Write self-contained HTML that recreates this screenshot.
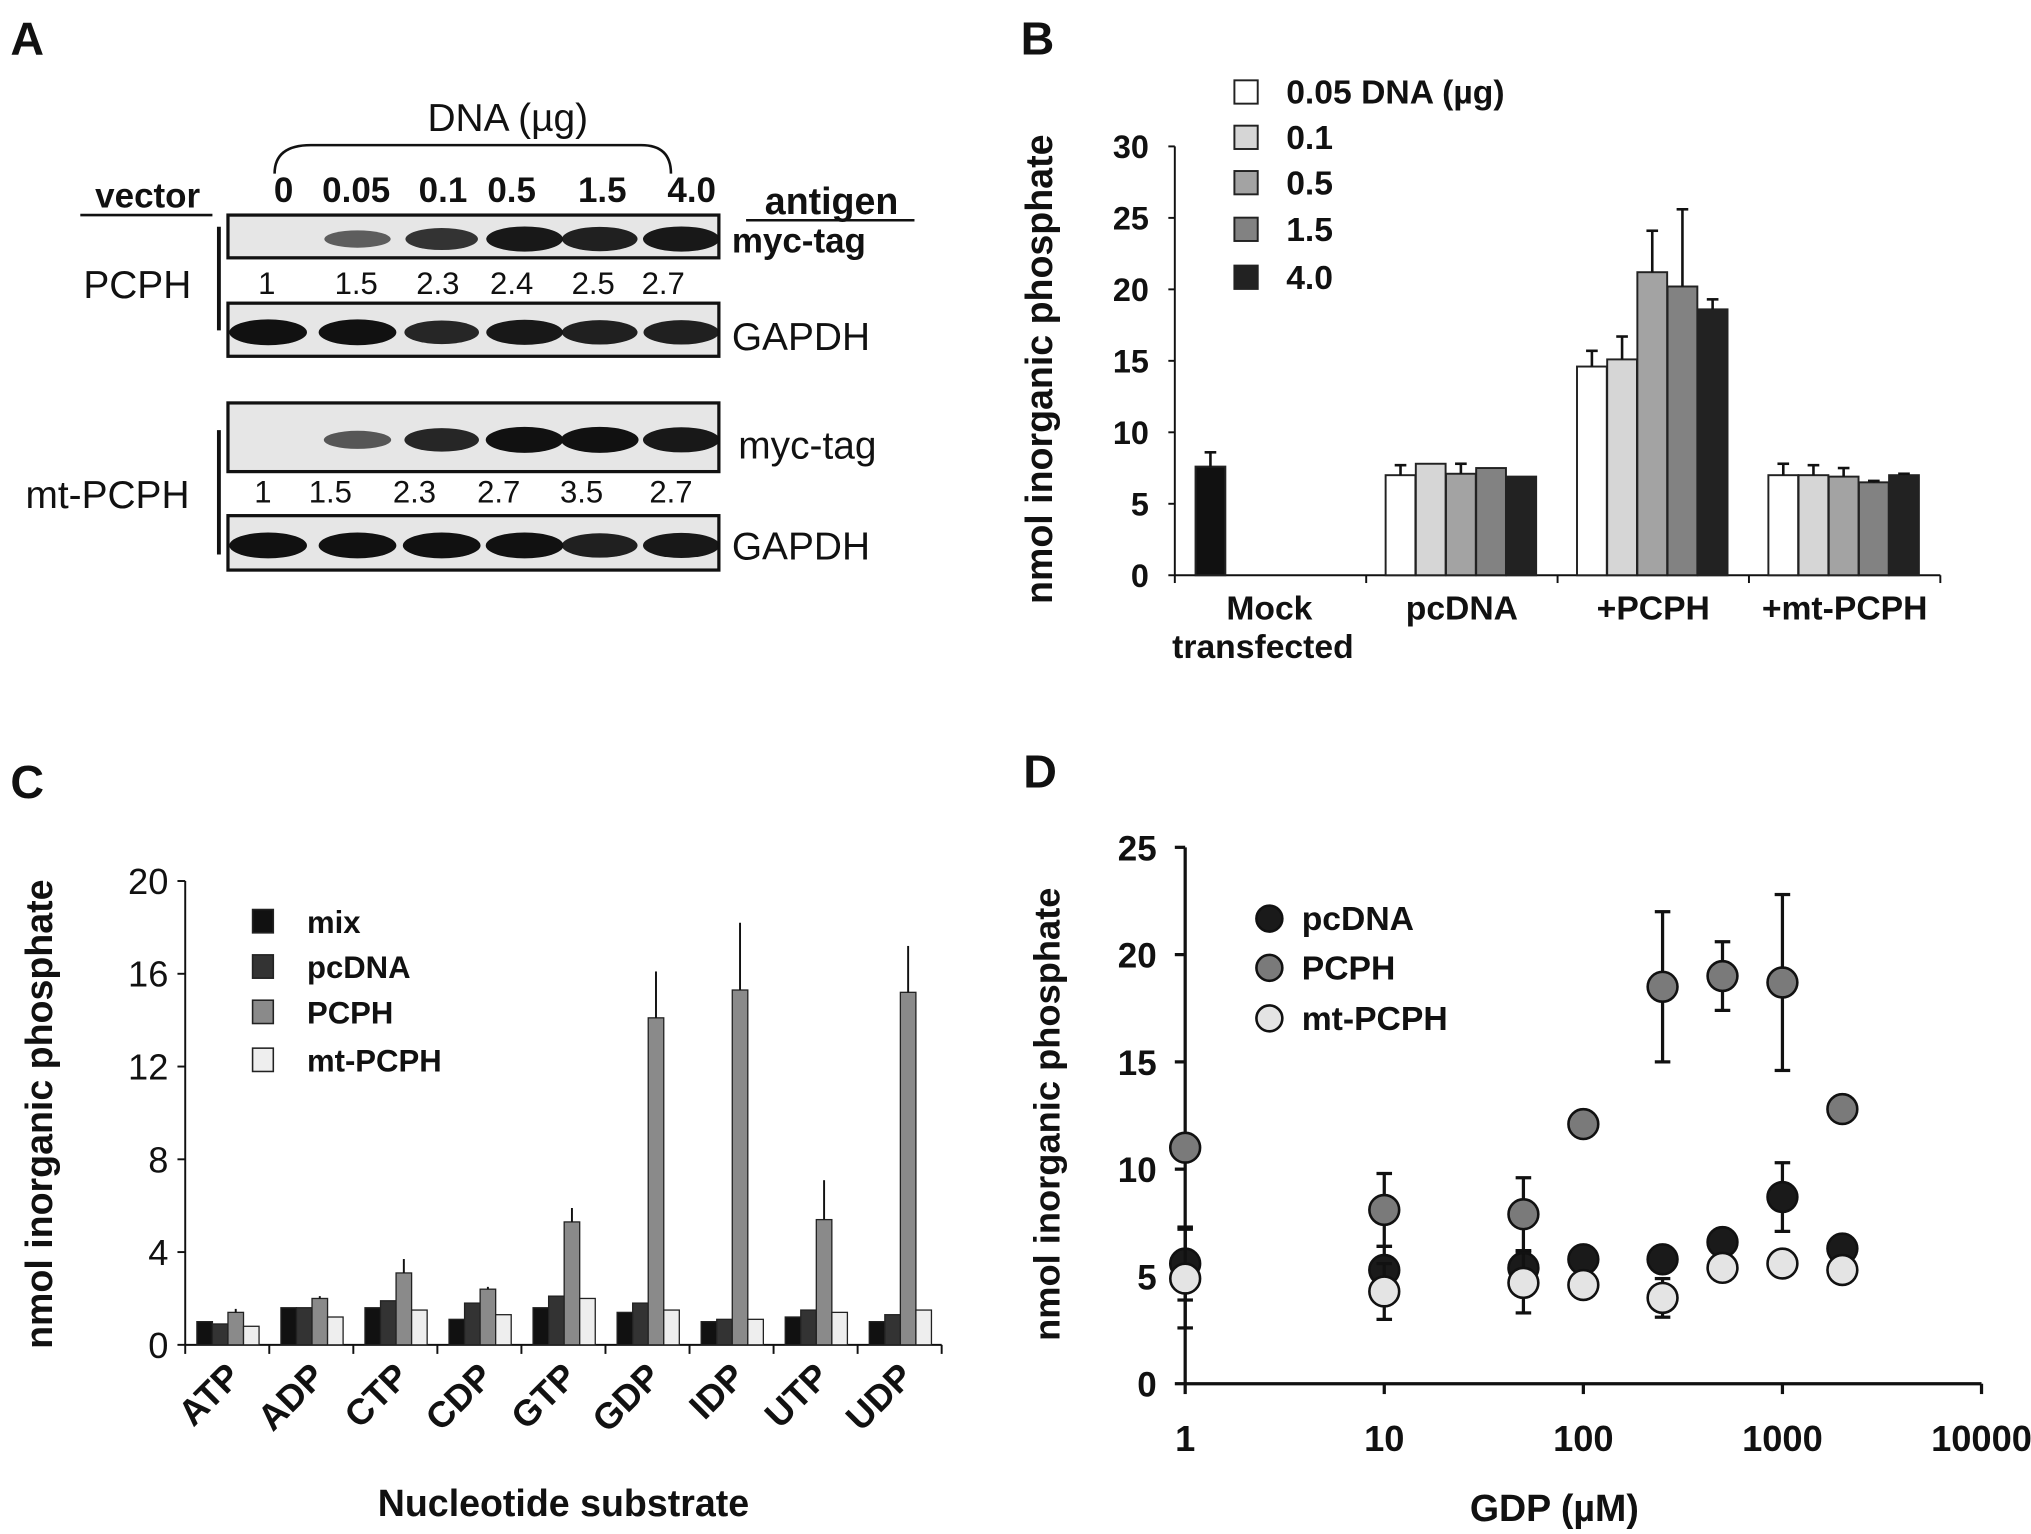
<!DOCTYPE html>
<html><head><meta charset="utf-8"><style>
html,body{margin:0;padding:0;background:#fff;}
svg{display:block;font-family:"Liberation Sans",Arial,sans-serif;}
</style></head><body>
<svg id="fig" width="2031" height="1534" viewBox="0 0 1568 1184" preserveAspectRatio="none">
<rect width="1568" height="1184" fill="#fff"/>
<g id="pA"></g>
<g id="pB"></g>
<g id="pC"></g>
<g id="pD"></g>
</svg>
<script>
// ---------- Panel A data ----------
const laneLabels = ["0","0.05","0.1","0.5","1.5","4.0"];
const pcphRatios = ["1","1.5","2.3","2.4","2.5","2.7"];
const mtRatios = ["1","1.5","2.3","2.7","3.5","2.7"];
const pcphMycIntensity = [0,0.45,0.75,0.95,0.9,0.95];
const mtMycIntensity = [0,0.5,0.85,1,1,0.95];
// ---------- Panel B data ----------
const bGroups = ["Mock","pcDNA","+PCPH","+mt-PCPH"];
const bSeries = ["0.05 DNA (µg)","0.1","0.5","1.5","4.0"];
const bMock = [7.6]; const bMockErr = [1.0];
const bVals = [[7.0,7.8,7.1,7.5,6.9],[14.6,15.1,21.2,20.2,18.6],[7.0,7.0,6.9,6.5,7.0]];
const bErrs = [[0.7,0,0.7,0,0],[1.1,1.6,2.9,5.4,0.7],[0.8,0.7,0.6,0.1,0.1]];
const bTicks = [0,5,10,15,20,25,30];
// ---------- Panel C data ----------
const cCats = ["ATP","ADP","CTP","CDP","GTP","GDP","IDP","UTP","UDP"];
const cSeries = ["mix","pcDNA","PCPH","mt-PCPH"];
const cMix = [1.0,1.6,1.6,1.1,1.6,1.4,1.0,1.2,1.0];
const cPc = [0.9,1.6,1.9,1.8,2.1,1.8,1.1,1.5,1.3];
const cPcph = [1.4,2.0,3.1,2.4,5.3,14.1,15.3,5.4,15.2];
const cMt = [0.8,1.2,1.5,1.3,2.0,1.5,1.1,1.4,1.5];
const cPcphErr = [0.15,0.1,0.6,0.1,0.6,2.0,2.9,1.7,2.0];
const cTicks = [0,4,8,12,16,20];
// ---------- Panel D data ----------
const dX = [1,10,50,100,250,500,1000,2000];
const dPc = [5.6,5.3,5.4,5.8,5.8,6.6,8.7,6.3];
const dPcErr = [1.7,1.1,0.8,0,0,0,1.6,0];
const dPcph = [11.0,8.1,7.9,12.1,18.5,19.0,18.7,12.8];
const dPcphErr = [0,1.7,1.7,0,3.5,1.6,4.1,0];
const dMt = [4.9,4.3,4.7,4.6,4.0,5.4,5.6,5.3];
const dMtErr = [2.3,1.3,1.4,0,0.9,0,0,0];
const dYTicks = [0,5,10,15,20,25];
const dXTicks = [1,10,100,1000,10000];

const NS="http://www.w3.org/2000/svg";
function el(p,tag,at,txt){const e=document.createElementNS(NS,tag);for(const k in at)e.setAttribute(k,at[k]);if(txt!==undefined)e.textContent=txt;p.appendChild(e);return e;}
function T(p,x,y,s,size,opt){opt=opt||{};const e=el(p,"text",{x:x,y:y,"font-size":size,"text-anchor":opt.a||"start","font-weight":opt.w||"bold",fill:"#111"},s);if(opt.r)e.setAttribute("transform","rotate("+opt.r+" "+x+" "+y+")");return e;}
function L(p,x1,y1,x2,y2,w,n){const e=el(p,"line",{x1:x1,y1:y1,x2:x2,y2:y2,stroke:"#111","stroke-width":w||2});return e;}

// ================= Panel A =================
(function(){
const g=document.getElementById("pA");
T(g,8,42,"A",36,{n:"panel-label-a"});
T(g,392,101,"DNA  (µg)",30,{a:"middle",w:"normal",n:"dna-title"});
const br=el(g,"path",{d:"M212,134 Q212,112 240,112 L495,112 Q518,112 518,134",fill:"none",stroke:"#111","stroke-width":2});

const lx=[219,275,342,395,465,534];
laneLabels.forEach((s,i)=>T(g,lx[i],156,s,27,{a:"middle",n:"lane-label"}));
T(g,114,160,"vector",27,{a:"middle",n:"vector-header"});L(g,62,166,164,166,2,"vector-underline");
T(g,642,165,"antigen",29,{a:"middle",n:"antigen-header"});L(g,576,170,706,170,2,"antigen-underline");
const bandX=[207,276,341,405,463,526];
function blot(y,h,ints,n){
 const r=el(g,"rect",{x:176,y:y,width:379,height:h,fill:"#e6e6e6",stroke:"#111","stroke-width":2.5});
 
 ints.forEach((v,i)=>{if(v<=0)return;const e=el(g,"ellipse",{cx:bandX[i],cy:y+h/2+2,rx:22+8*v,ry:4+6*v,fill:"#111","fill-opacity":0.35+0.65*v});});
}
blot(166,33,pcphMycIntensity,"pcph-myc-blot");
blot(234,41,[1,1,0.85,0.95,0.9,0.9],"pcph-gapdh-blot");
blot(311,53,mtMycIntensity,"mt-myc-blot");
blot(398,42,[1,1,1,1,0.9,0.95],"mt-gapdh-blot");
const rx1=[206,275,338,395,458,512], rx2=[203,255,320,385,449,518];
pcphRatios.forEach((s,i)=>T(g,rx1[i],227,s,24,{a:"middle",w:"normal",n:"pcph-ratio"}));
mtRatios.forEach((s,i)=>T(g,rx2[i],388,s,24,{a:"middle",w:"normal",n:"mt-ratio"}));
T(g,565,195,"myc-tag",27,{n:"antigen-myc-1"});
T(g,565,270,"GAPDH",30,{w:"normal",n:"antigen-gapdh-1"});
T(g,570,354,"myc-tag",30,{w:"normal",n:"antigen-myc-2"});
T(g,565,432,"GAPDH",30,{w:"normal",n:"antigen-gapdh-2"});
T(g,106,230,"PCPH",30,{a:"middle",w:"normal",n:"pcph-group-label"});L(g,169,175,169,255,3,"pcph-bracket");
T(g,83,392,"mt-PCPH",30,{a:"middle",w:"normal",n:"mt-pcph-group-label"});L(g,169,332,169,428,3,"mt-bracket");
})();

// ================= Panel B =================
(function(){
const g=document.getElementById("pB");
const X0=907,X1=1498,Y0=444,Y30=113;
const y=v=>Y0-(Y0-Y30)*v/30;
const colors=["#ffffff","#d6d6d6","#a3a3a3","#828282","#222222"];
T(g,788,42,"B",36,{n:"panel-label-b"});
L(g,X0,Y30,X0,Y0,1.5,"y-axis");L(g,X0,Y0,X1,Y0,1.5,"x-axis");
bTicks.forEach(t=>{L(g,X0-5,y(t),X0,y(t),1.5,"y-tick");T(g,887,y(t)+9,String(t),25,{a:"end",n:"y-tick-label"});});
const gw=(X1-X0)/4;
for(let i=0;i<=4;i++)L(g,X0+gw*i,Y0,X0+gw*i,Y0+6,1.5,"x-tick");
function bar(x,v,e,c,n){const r=el(g,"rect",{x:x,y:y(v),width:23,height:Y0-y(v),fill:c,stroke:"#222","stroke-width":1.5});
 if(e>0){L(g,x+11.5,y(v),x+11.5,y(v+e),2,"error-bar");L(g,x+7,y(v+e),x+16,y(v+e),2,"error-cap");}}
bar(X0+16,bMock[0],bMockErr[0],"#111","bar-mock");
bVals.forEach((arr,gi)=>arr.forEach((v,si)=>bar(X0+gw*(gi+1)+15+si*23.3,v,bErrs[gi][si],colors[si],"bar-"+bGroups[gi+1].replace(/\+/g,"").toLowerCase()+"-"+si)));
T(g,980,478,"Mock",26,{a:"middle",n:"x-label-mock"});T(g,975,508,"transfected",26,{a:"middle",n:"x-label-mock-2"});
for(let i=1;i<4;i++)T(g,X0+gw*i+gw/2,478,bGroups[i],26,{a:"middle",n:"x-label"});
T(g,812,285,"nmol inorganic phosphate",29,{a:"middle",r:-90,n:"y-axis-title"});
const ly=[71,106,141,177,214];
bSeries.forEach((s,i)=>{const r=el(g,"rect",{x:953,y:ly[i]-9,width:18,height:18,fill:colors[i],stroke:"#222","stroke-width":1.5});
 T(g,993,ly[i]+9,s,26,{n:"legend-entry"});});
})();

// ================= Panel C =================
(function(){
const g=document.getElementById("pC");
const X0=143,X1=727,Y0=1038,Y20=680;
const y=v=>Y0-(Y0-Y20)*v/20;
const colors=["#111111","#333333","#8a8a8a","#eeeeee"];
const series=[cMix,cPc,cPcph,cMt];
T(g,8,616,"C",36,{n:"panel-label-c"});
L(g,X0,Y20,X0,Y0,1.5,"y-axis");L(g,X0,Y0,X1,Y0,1.5,"x-axis");
cTicks.forEach(t=>{L(g,X0-6,y(t),X0,y(t),1.5,"y-tick");T(g,130,y(t)+10,String(t),28,{a:"end",w:"normal",n:"y-tick-label"});});
const gw=(X1-X0)/cCats.length;
for(let i=0;i<=cCats.length;i++)L(g,X0+gw*i,Y0,X0+gw*i,Y0+7,1.5,"x-tick");
cCats.forEach((c,ci)=>{
 series.forEach((arr,si)=>{const x=X0+gw*ci+9+si*12,v=arr[ci];
  const r=el(g,"rect",{x:x,y:y(v),width:12,height:Y0-y(v),fill:colors[si],stroke:"#222","stroke-width":1});
  if(si===2)L(g,x+6,y(v),x+6,y(v+cPcphErr[ci]),1.5,"error-bar");
 });
 T(g,X0+gw*ci+gw/2+12,1064,c,28,{a:"end",r:-45,n:"x-tick-label"});
});
T(g,435,1170,"Nucleotide substrate",29,{a:"middle",n:"x-axis-title"});
T(g,40,860,"nmol inorganic phosphate",29,{a:"middle",r:-90,n:"y-axis-title"});
const ly=[711,746,781,818];
cSeries.forEach((s,i)=>{const r=el(g,"rect",{x:195,y:ly[i]-9,width:16,height:18,fill:colors[i],stroke:"#222","stroke-width":1.2});
 T(g,237,ly[i]+9,s,24,{n:"legend-entry"});});
})();

// ================= Panel D =================
(function(){
const g=document.getElementById("pD");
const X0=915,DEC=153.7,Y0=1068,Y25=654;
const x=v=>X0+DEC*Math.log10(v);
const y=v=>Y0-(Y0-Y25)*v/25;
T(g,790,608,"D",36,{n:"panel-label-d"});
L(g,X0,Y25,X0,Y0,2.5,"y-axis");L(g,X0,Y0,x(10000),Y0,2.5,"x-axis");
dYTicks.forEach(t=>{L(g,X0-8,y(t),X0,y(t),2.5,"y-tick");T(g,893,y(t)+10,String(t),27,{a:"end",n:"y-tick-label"});});
dXTicks.forEach(t=>{L(g,x(t),Y0,x(t),Y0+8,2.5,"x-tick");T(g,x(t),1120,String(t),28,{a:"middle",n:"x-tick-label"});});
T(g,1200,1174,"GDP (µM)",29,{a:"middle",n:"x-axis-title"});
T(g,818,860,"nmol inorganic phosphate",28,{a:"middle",r:-90,n:"y-axis-title"});
function ser(vals,errs,fill,n){vals.forEach((v,i)=>{const cx=x(dX[i]);
 if(errs[i]>0){L(g,cx,y(v-errs[i]),cx,y(v+errs[i]),2.5,"error-bar");L(g,cx-6,y(v-errs[i]),cx+6,y(v-errs[i]),2.5,"error-cap");L(g,cx-6,y(v+errs[i]),cx+6,y(v+errs[i]),2.5,"error-cap");}
 const c=el(g,"circle",{cx:cx,cy:y(v),r:11.5,fill:fill,stroke:"#111","stroke-width":2});});}
ser(dPcph,dPcphErr,"#7a7a7a","point-pcph");
ser(dPc,dPcErr,"#1a1a1a","point-pcdna");
ser(dMt,dMtErr,"#e4e4e4","point-mt-pcph");
const ly=[709,747,786],lc=["#1a1a1a","#7a7a7a","#e4e4e4"],ln=["pcDNA","PCPH","mt-PCPH"];
ln.forEach((s,i)=>{const c=el(g,"circle",{cx:980,cy:ly[i],r:10,fill:lc[i],stroke:"#111","stroke-width":2});
 T(g,1005,ly[i]+9,s,26,{n:"legend-entry"});});
})();
</script>
</body></html>
